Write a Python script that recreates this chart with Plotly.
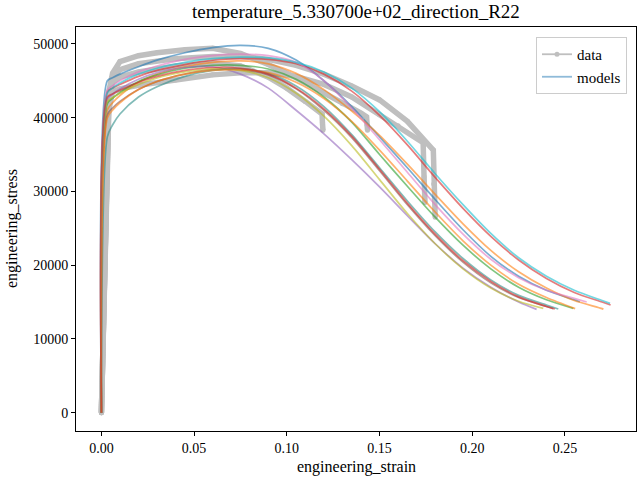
import plotly.graph_objects as go

# ---------------- data ----------------
title_text = "temperature_5.330700e+02_direction_R22"
x_label = "engineering_strain"
y_label = "engineering_stress"
x_ticks = [0.0, 0.05, 0.10, 0.15, 0.20, 0.25]
x_tick_text = ["0.00", "0.05", "0.10", "0.15", "0.20", "0.25"]
y_ticks = [0, 10000, 20000, 30000, 40000, 50000]
y_tick_text = ["0", "10000", "20000", "30000", "40000", "50000"]

# experimental data curves
data_strain = [
    [0, 0.001, 0.002, 0.003, 0.004, 0.006, 0.01, 0.02, 0.03, 0.045, 0.06, 0.075, 0.09, 0.105, 0.12, 0.13, 0.14, 0.143, 0.1432, 0.1435],
    [0, 0.001, 0.002, 0.003, 0.004, 0.006, 0.01, 0.02, 0.04, 0.06, 0.075, 0.09, 0.105, 0.12, 0.135, 0.15, 0.16, 0.1735, 0.174, 0.1745],
    [0, 0.001, 0.002, 0.003, 0.004, 0.006, 0.01, 0.02, 0.04, 0.06, 0.075, 0.09, 0.1, 0.11, 0.119, 0.1192, 0.1195],
    [0, 0.001, 0.002, 0.003, 0.004, 0.006, 0.01, 0.02, 0.04, 0.06, 0.075, 0.09, 0.105, 0.12, 0.135, 0.15, 0.165, 0.179, 0.1792, 0.1795, 0.18],
]
data_stress = [
    [0, 12000, 25000, 36000, 43500, 46000, 47600, 48400, 48800, 49200, 49400, 48700, 47200, 45400, 43400, 41900, 40600, 40100, 39000, 38300],
    [0, 11000, 23000, 34000, 41000, 43500, 43900, 44400, 45100, 45800, 46100, 46100, 45600, 44500, 42800, 40400, 38900, 36600, 32000, 28500],
    [0, 12000, 24500, 35500, 42500, 44800, 45500, 46200, 47000, 47400, 47000, 45500, 44000, 42200, 40500, 39300, 38300],
    [0, 12000, 25000, 36000, 43000, 45500, 46500, 47300, 48000, 48300, 48300, 47900, 47100, 45900, 44300, 42400, 39500, 35600, 31000, 29000, 26500],
]

# model curves
model_grid = [0, 0.0032, 0.006, 0.01, 0.02, 0.03, 0.045, 0.06, 0.075, 0.09, 0.105,
              0.12, 0.135, 0.15, 0.165, 0.18, 0.195, 0.21, 0.225, 0.24, 0.255, 0.27]
model_colors = ["#1f77b4", "#ff7f0e", "#2ca02c", "#d62728", "#9467bd", "#8c564b",
                "#e377c2", "#bcbd22", "#17becf", "#2f8f8a", "#ff7f0e", "#d62728"]
model_end_strain = [0.258, 0.2707, 0.2545, 0.2746, 0.2347, 0.2437,
                    0.2617, 0.2383, 0.2743, 0.2464, 0.2555, 0.2445]
model_stress = [
    [0, 45000, 45400, 45900, 46900, 47800, 48800, 49500, 49800, 49400, 47800, 45000, 41500, 37400, 33200, 28900, 24800, 21200, 18500, 16600, 15300, 15040],
    [0, 41050, 42000, 43000, 44800, 45900, 46900, 47500, 47700, 47300, 46000, 43800, 40900, 37600, 33700, 29600, 25600, 22000, 19100, 16900, 15200, 14100, 14000],
    [0, 41900, 42600, 43400, 44900, 45800, 46700, 47100, 47100, 46600, 45200, 42800, 39400, 35000, 30700, 26500, 22700, 19500, 17000, 15300, 14140],
    [0, 43500, 44000, 44500, 45600, 46400, 47200, 47800, 48000, 47900, 47300, 45900, 43600, 40300, 36300, 31900, 27700, 23900, 20700, 18200, 16300, 15000, 14590],
    [0, 42500, 43200, 43900, 45200, 46100, 46800, 46900, 45900, 44000, 41000, 37800, 34300, 30600, 26700, 22900, 19600, 17000, 15000, 14000],
    [0, 40370, 41300, 42200, 43800, 44900, 45900, 46500, 46500, 45800, 43900, 41000, 37300, 32800, 28200, 24000, 20400, 17600, 15600, 14400, 14100],
    [0, 43750, 44300, 45000, 46200, 47000, 47900, 48400, 48600, 48400, 47500, 45000, 41300, 37000, 32600, 28200, 24200, 20800, 18300, 16600, 15500, 15000],
    [0, 42170, 42700, 43300, 44500, 45400, 46200, 46600, 46400, 45400, 43300, 40200, 36200, 31600, 27000, 22900, 19500, 16900, 15100, 14140],
    [0, 43350, 44000, 44700, 45900, 46700, 47500, 48000, 48200, 48100, 47500, 46200, 44000, 40800, 36800, 32400, 28200, 24300, 21000, 18500, 16600, 15200, 14810],
    [0, 37400, 39000, 40500, 42800, 44200, 45600, 46400, 46600, 46000, 44300, 41500, 37700, 33200, 28700, 24500, 20900, 18000, 15900, 14600, 14050],
    [0, 39960, 41000, 42000, 43800, 44900, 45900, 46400, 46500, 46100, 44800, 42600, 39500, 35600, 31400, 27200, 23300, 20000, 17400, 15600, 14100],
    [0, 42800, 43200, 43700, 44800, 45600, 46400, 46800, 46700, 45900, 44000, 41200, 37500, 33000, 28400, 24200, 20600, 17800, 15700, 14400, 14050],
]

# ---------------- figure ----------------
FONT = "Liberation Serif"
GRAY = "#bfbfbf"
fig = go.Figure()

for xs, ys in zip(data_strain, data_stress):
    fig.add_trace(go.Scatter(x=xs, y=ys, mode="lines+markers",
                             line=dict(color=GRAY, width=5.5),
                             marker=dict(color=GRAY, size=5),
                             showlegend=False, hoverinfo="skip"))

for ys, end, col in zip(model_stress, model_end_strain, model_colors):
    xs = model_grid[:len(ys) - 1] + [end]
    fig.add_trace(go.Scatter(x=xs, y=ys, mode="lines",
                             line=dict(color=col, width=1.7, shape="spline", smoothing=0.8),
                             opacity=0.6, showlegend=False, hoverinfo="skip"))

# legend entries
fig.add_trace(go.Scatter(x=[None], y=[None], mode="lines+markers", name="data",
                         line=dict(color=GRAY, width=1.8), marker=dict(color=GRAY, size=5)))
fig.add_trace(go.Scatter(x=[None], y=[None], mode="lines", name="models",
                         line=dict(color="#1f77b4", width=1.8), opacity=0.5))

L, R, T, B = 76, 636, 27, 431
pw, ph = R - L, B - T

axis_common = dict(showgrid=False, zeroline=False, showline=True, mirror=True,
                   linecolor="black", linewidth=1, ticks="outside", ticklen=4,
                   tickwidth=1, tickcolor="black",
                   tickfont=dict(family=FONT, size=14, color="black"))

fig.update_layout(
    width=640, height=480,
    margin=dict(l=L, r=640 - R, t=T, b=480 - B, pad=0),
    paper_bgcolor="white", plot_bgcolor="white",
    font=dict(family=FONT, color="black"),
    xaxis=dict(range=[-0.0137, 0.2883], tickvals=x_ticks, ticktext=x_tick_text, **axis_common),
    yaxis=dict(range=[-2490, 52290], tickvals=y_ticks, ticktext=y_tick_text, **axis_common),
    legend=dict(x=(627 - L) / pw, xanchor="right", y=(B - 37) / ph, yanchor="top",
                bgcolor="rgba(255,255,255,0.8)", bordercolor="#cccccc", borderwidth=1,
                font=dict(family=FONT, size=15, color="black"), tracegroupgap=0),
    annotations=[
        dict(text=title_text, xref="paper", yref="paper", x=0.5, y=(B - 12) / ph,
             xanchor="center", yanchor="middle", showarrow=False,
             font=dict(family=FONT, size=19, color="black")),
        dict(text=x_label, xref="paper", yref="paper", x=0.5, y=-(467 - B) / ph,
             xanchor="center", yanchor="middle", showarrow=False,
             font=dict(family=FONT, size=16, color="black")),
        dict(text=y_label, xref="paper", yref="paper", x=(12 - L) / pw, y=0.5,
             xanchor="center", yanchor="middle", showarrow=False, textangle=-90,
             font=dict(family=FONT, size=16, color="black")),
    ],
)

fig.write_html("out.html")
